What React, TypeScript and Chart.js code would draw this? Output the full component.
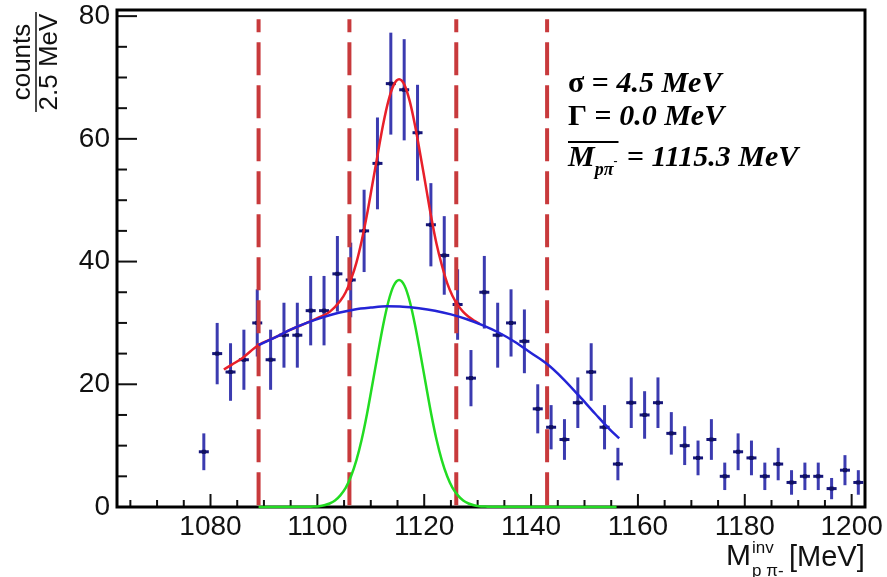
import React, { useEffect, useRef } from 'react';
import { Chart, registerables } from 'chart.js';

Chart.register(...registerables);

// ---- data ----
const binCenters = [
  1078.75, 1081.25, 1083.75, 1086.25, 1088.75, 1091.25, 1093.75, 1096.25, 1098.75, 1101.25,
  1103.75, 1106.25, 1108.75, 1111.25, 1113.75, 1116.25, 1118.75, 1121.25, 1123.75, 1126.25,
  1128.75, 1131.25, 1133.75, 1136.25, 1138.75, 1141.25, 1143.75, 1146.25, 1148.75, 1151.25,
  1153.75, 1156.25, 1158.75, 1161.25, 1163.75, 1166.25, 1168.75, 1171.25, 1173.75, 1176.25,
  1178.75, 1181.25, 1183.75, 1186.25, 1188.75, 1191.25, 1193.75, 1196.25, 1198.75, 1201.25,
];
const counts = [
  9, 25, 22, 24, 30, 24, 28, 28, 32, 32,
  38, 37, 45, 56, 69, 68, 61, 46, 41, 33,
  21, 35, 28, 30, 27, 16, 13, 11, 17, 22,
  13, 7, 17, 15, 17, 12, 10, 8, 11, 5,
  9, 8, 5, 7, 4, 5, 5, 3, 6, 4,
];

// background fit (blue)
const bgX = [1089, 1092, 1095, 1098, 1101, 1104, 1107, 1110, 1113, 1116, 1119, 1122, 1125, 1128, 1131, 1134, 1137, 1140, 1143, 1146, 1149, 1152, 1155, 1156.5];
const bgY = [26.4, 27.6, 28.9, 30.0, 30.9, 31.65, 32.2, 32.5, 32.7, 32.65, 32.4, 32.0, 31.4, 30.6, 29.6, 28.4, 26.9, 25.1, 23.3, 20.9, 18.1, 15.2, 12.4, 11.2];

// total fit (red)
const totX = [1082.5, 1084, 1086, 1089, 1092, 1095, 1098, 1100.3, 1102.3, 1104.3, 1105.3, 1106.3, 1107.3, 1108.3, 1109.3, 1110.3, 1111.3, 1112.3, 1113.3, 1114.3, 1115.3, 1116.3, 1117.3, 1118.3, 1119.3, 1120.3, 1121.3, 1122.3, 1123.3, 1124.3, 1125.3, 1126.3, 1127.3, 1128.3, 1129.3, 1130.3];
const totY = [22.4, 23.2, 24.3, 26.4, 27.6, 28.9, 30.0, 30.9, 31.8, 33.6, 35.0, 37.1, 39.8, 43.4, 47.7, 52.6, 57.5, 62.3, 66.2, 68.8, 69.7, 68.8, 66.1, 62.1, 57.3, 52.3, 47.3, 42.9, 39.4, 36.5, 34.4, 32.9, 31.8, 31.0, 30.4, 29.9];

// signal (green)
const sigX = [1089, 1098.3, 1099.3, 1100.3, 1101.3, 1102.3, 1103.3, 1104.3, 1105.3, 1106.3, 1107.3, 1108.3, 1109.3, 1110.3, 1111.3, 1112.3, 1113.3, 1114.3, 1115.3, 1116.3, 1117.3, 1118.3, 1119.3, 1120.3, 1121.3, 1122.3, 1123.3, 1124.3, 1125.3, 1126.3, 1127.3, 1128.3, 1129.3, 1130.3, 1131.3, 1132.3, 1156];
const sigY = [0, 0.03, 0.07, 0.14, 0.29, 0.57, 1.06, 1.9, 3.1, 5.0, 7.6, 11.0, 15.2, 20.0, 24.9, 29.6, 33.5, 36.1, 37, 36.1, 33.5, 29.6, 24.9, 20.0, 15.2, 11.0, 7.6, 5.0, 3.1, 1.9, 1.06, 0.57, 0.29, 0.14, 0.07, 0.03, 0];

// selection windows (dashed)
const cutX = [1089, 1106, 1126, 1143];
const cutTop = 79.5;

const xTickValues = [1080, 1100, 1120, 1140, 1160, 1180, 1200];
const yTickValues = [0, 20, 40, 60, 80];

const SANS = '"Liberation Sans", Arial, sans-serif';
const SERIF = '"Liberation Serif", "Times New Roman", serif';

const pts = (xs: number[], ys: number[]) => xs.map((x, i) => ({ x, y: ys[i] }));

export default function App() {
  const ref = useRef<HTMLCanvasElement>(null);

  useEffect(() => {
    const canvas = ref.current!;

    const underPlugin = {
      id: 'under',
      beforeDatasetsDraw(chart: any) {
        const { ctx, chartArea, scales } = chart;
        const x = scales.x, y = scales.y;
        const { left, right, top, bottom } = chartArea;
        ctx.save();
        // ticks (inside the frame)
        ctx.strokeStyle = '#111';
        ctx.lineWidth = 2;
        for (let v = 1065; v <= 1200; v += 5) {
          const px = x.getPixelForValue(v);
          const len = v % 20 === 0 ? 13 : 7;
          ctx.beginPath();
          ctx.moveTo(px, bottom);
          ctx.lineTo(px, bottom - len);
          ctx.stroke();
        }
        for (let v = 0; v <= 80; v += 5) {
          const py = y.getPixelForValue(v);
          const len = v % 20 === 0 ? 20 : 10;
          ctx.beginPath();
          ctx.moveTo(left, py);
          ctx.lineTo(left + len, py);
          ctx.stroke();
        }
        // frame
        ctx.strokeStyle = '#000';
        ctx.lineWidth = 3;
        ctx.strokeRect(left, top, right - left, bottom - top);

        // data points with errors
        ctx.beginPath();
        ctx.rect(left, top, right - left, bottom - top);
        ctx.clip();
        binCenters.forEach((c, i) => {
          const n = counts[i];
          const e = Math.sqrt(n);
          const px = x.getPixelForValue(c);
          const py = y.getPixelForValue(n);
          const pt = y.getPixelForValue(n + e);
          const pb = y.getPixelForValue(Math.max(0, n - e));
          ctx.strokeStyle = '#3b3bb0';
          ctx.lineWidth = 3;
          ctx.beginPath();
          ctx.moveTo(px, pt);
          ctx.lineTo(px, pb);
          ctx.stroke();
          ctx.strokeStyle = '#15157a';
          ctx.lineWidth = 3;
          ctx.beginPath();
          ctx.moveTo(px - 5, py);
          ctx.lineTo(px + 5, py);
          ctx.stroke();
          ctx.fillStyle = '#10105e';
          ctx.fillRect(px - 2, py - 2, 4, 4);
        });
        ctx.restore();
      },
    };

    const textPlugin = {
      id: 'texts',
      afterDraw(chart: any) {
        const { ctx } = chart;
        ctx.save();
        // y title (fraction, rotated)
        ctx.fillStyle = '#111';
        ctx.save();
        ctx.translate(36, 62);
        ctx.rotate(-Math.PI / 2);
        ctx.textAlign = 'center';
        ctx.font = `26px ${SANS}`;
        ctx.textBaseline = 'alphabetic';
        ctx.fillText('counts', 0, -6);
        ctx.lineWidth = 1.5;
        ctx.strokeStyle = '#111';
        ctx.beginPath();
        ctx.moveTo(-50, 0);
        ctx.lineTo(50, 0);
        ctx.stroke();
        ctx.fillText('2.5 MeV', 0, 21);
        ctx.restore();

        // x title
        ctx.textAlign = 'left';
        ctx.textBaseline = 'alphabetic';
        ctx.font = `30px ${SANS}`;
        ctx.fillText('M', 726, 565);
        const mW = ctx.measureText('M').width;
        ctx.font = `17px ${SANS}`;
        ctx.fillText('inv', 727 + mW, 553);
        ctx.fillText('p \u03c0-', 727 + mW, 576);
        ctx.font = `29px ${SANS}`;
        ctx.fillText('[MeV]', 789, 566);

        // fit annotations
        ctx.fillStyle = '#000';
        const b = `bold 30px ${SERIF}`;
        const bi = `italic bold 30px ${SERIF}`;
        const runs = (xs: number, yb: number, parts: [string, string][]) => {
          let cx = xs;
          for (const [f, t] of parts) {
            ctx.font = f;
            ctx.fillText(t, cx, yb);
            cx += ctx.measureText(t).width;
          }
          return cx;
        };
        runs(568, 92, [[b, '\u03c3 = '], [bi, '4.5 MeV']]);
        runs(568, 125, [[b, '\u0393 = '], [bi, '0.0 MeV']]);
        // overlined M_{p pi-}
        ctx.font = bi;
        ctx.fillText('M', 568, 166);
        const mw = ctx.measureText('M').width;
        ctx.font = `italic bold 18px ${SERIF}`;
        ctx.fillText('p\u03c0', 568 + mw, 175);
        const sw = ctx.measureText('p\u03c0').width;
        ctx.font = `bold 12px ${SERIF}`;
        ctx.fillText('-', 568 + mw + sw, 165);
        const endSub = 568 + mw + sw + 5;
        ctx.lineWidth = 2;
        ctx.strokeStyle = '#000';
        ctx.beginPath();
        ctx.moveTo(568, 142);
        ctx.lineTo(endSub, 142);
        ctx.stroke();
        runs(endSub + 1, 166, [[b, ' = '], [bi, '1115.3 MeV']]);
        ctx.restore();
      },
    };

    const lineDs = (data: any[], color: string, extra: any = {}) => ({
      data,
      showLine: true,
      borderColor: color,
      backgroundColor: color,
      borderWidth: 2.5,
      pointRadius: 0,
      pointHoverRadius: 0,
      fill: false,
      cubicInterpolationMode: 'monotone',
      ...extra,
    });

    const datasets: any[] = [
      lineDs(pts(bgX, bgY), '#2424d6'),
      lineDs(pts(totX, totY), '#e8202a'),
      lineDs(pts(sigX, sigY), '#22dc22', { clip: false }),
      ...cutX.map((c) =>
        lineDs([{ x: c, y: cutTop }, { x: c, y: 0 }], '#c83a3c', {
          borderWidth: 4,
          borderDash: [33, 10],
          borderDashOffset: 20,
          cubicInterpolationMode: 'default',
          tension: 0,
        })
      ),
    ];

    const chart = new Chart(canvas, {
      type: 'scatter',
      data: { datasets },
      options: {
        animation: false,
        responsive: false,
        maintainAspectRatio: false,
        devicePixelRatio: 1,
        layout: { padding: { top: 10, right: 22, left: 0, bottom: 0 } },
        plugins: { legend: { display: false }, tooltip: { enabled: false } },
        events: [],
        scales: {
          x: {
            type: 'linear',
            position: 'bottom',
            min: 1062.5,
            max: 1202.5,
            grid: { display: false, drawTicks: false },
            border: { display: false },
            ticks: {
              font: { family: SANS, size: 28 },
              color: '#111',
              padding: 3,
              maxRotation: 0,
              autoSkip: false,
              callback: (v: any) => String(v),
            },
            afterBuildTicks: (s: any) => {
              s.ticks = xTickValues.map((v) => ({ value: v }));
            },
            afterFit: (s: any) => {
              s.height = 70;
              s.paddingLeft = 0;
              s.paddingRight = 0;
            },
          },
          y: {
            type: 'linear',
            position: 'left',
            min: 0,
            max: 81,
            grid: { display: false, drawTicks: false },
            border: { display: false },
            ticks: {
              font: { family: SANS, size: 28 },
              color: '#111',
              padding: 7,
              autoSkip: false,
              callback: (v: any) => String(v),
            },
            afterBuildTicks: (s: any) => {
              s.ticks = yTickValues.map((v) => ({ value: v }));
            },
            afterFit: (s: any) => {
              s.width = 117;
              s.paddingTop = 0;
              s.paddingBottom = 0;
            },
          },
        },
      },
      plugins: [underPlugin, textPlugin],
    } as any);

    return () => chart.destroy();
  }, []);

  return (
    <div style={{ position: 'absolute', left: 0, top: 0, width: 887, height: 577, background: '#fff' }}>
      <canvas ref={ref} width={887} height={577} style={{ display: 'block' }} />
    </div>
  );
}
